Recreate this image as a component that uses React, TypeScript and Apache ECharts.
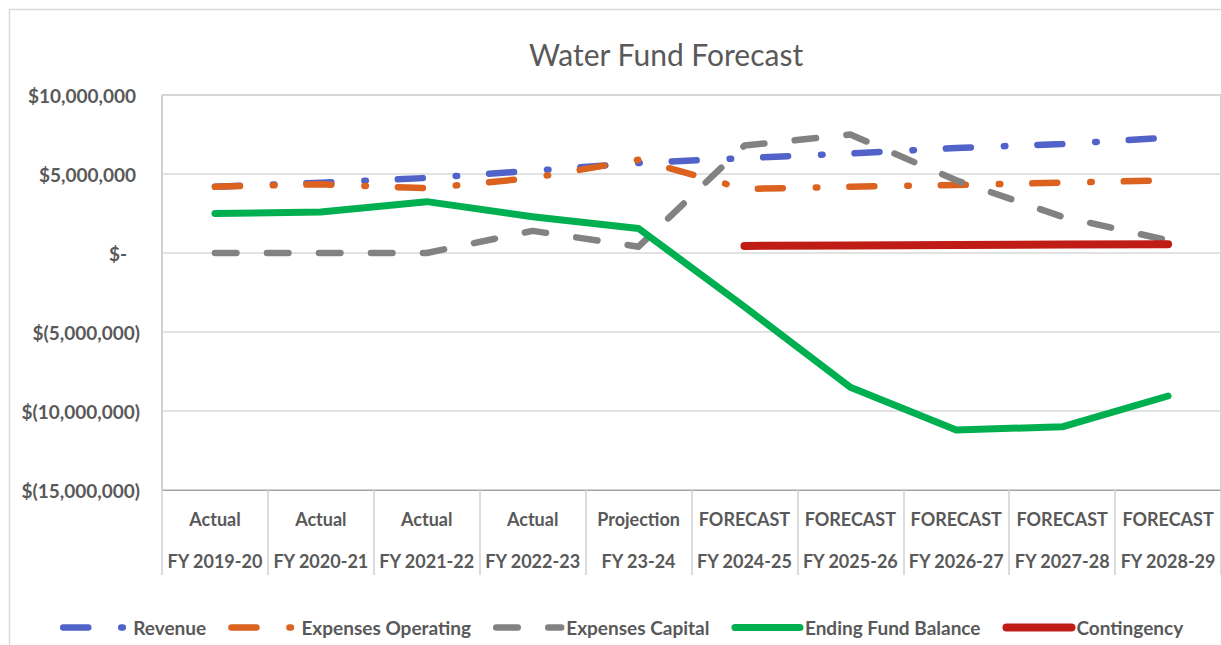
import React, { useEffect, useRef } from 'react';
import * as echarts from 'echarts';

const stages = ['Actual', 'Actual', 'Actual', 'Actual', 'Projection', 'FORECAST', 'FORECAST', 'FORECAST', 'FORECAST', 'FORECAST'];
const years = ['FY 2019-20', 'FY 2020-21', 'FY 2021-22', 'FY 2022-23', 'FY 23-24', 'FY 2024-25', 'FY 2025-26', 'FY 2026-27', 'FY 2027-28', 'FY 2028-29'];

const revenue = [4200000, 4450000, 4750000, 5200000, 5700000, 6000000, 6300000, 6650000, 6900000, 7300000];
const expensesOperating = [4200000, 4350000, 4100000, 4750000, 5900000, 4050000, 4200000, 4300000, 4450000, 4600000];
const expensesCapital = [0, 0, 0, 1400000, 400000, 6800000, 7500000, 4600000, 2300000, 800000];
const endingFundBalance = [2500000, 2600000, 3250000, 2300000, 1550000, -3400000, -8500000, -11200000, -11000000, -9050000];
const contingency = [null, null, null, null, null, 450000, 480000, 510000, 540000, 560000];

const yMin = -15000000;
const yMax = 10000000;
const yInterval = 5000000;

const FONT = 'Lato, "Open Sans", sans-serif';
const TXT = '#595959';

function fmtY(v: number): string {
  if (v === 0) return '{z|$-}';
  const s = Math.abs(v).toLocaleString('en-US');
  return v < 0 ? `{n|$(${s})}` : `{p|$${s}}`;
}

export default function App() {
  const ref = useRef<HTMLDivElement>(null);
  useEffect(() => {
    if (!ref.current) return;
    const chart = echarts.init(ref.current, null, { renderer: 'svg' });
    const categories = stages.map((s, i) => `${s}\n${years[i]}`);
    const labelRich = {
      p: { fontFamily: FONT, fontSize: 19, fontWeight: 'bold', color: TXT, padding: [0, 4, 0, 0] },
      z: { fontFamily: FONT, fontSize: 19, fontWeight: 'bold', color: TXT, padding: [0, 13, 0, 0] },
      n: { fontFamily: FONT, fontSize: 19, fontWeight: 'bold', color: TXT },
    };
    chart.setOption({
      animation: false,
      backgroundColor: '#ffffff',
      title: {
        text: 'Water Fund Forecast',
        left: 524,
        top: 34,
        textStyle: { fontFamily: FONT, fontSize: 30, fontWeight: 'normal', color: TXT },
      },
      graphic: [
        {
          type: 'rect',
          shape: { x: 9.5, y: 9.5, width: 1400, height: 800 },
          style: { fill: 'none', stroke: '#d9d9d9', lineWidth: 1.5 },
          silent: true,
          z: -10,
        },
      ],
      legend: {
        left: 55,
        top: 613,
        itemWidth: 65,
        itemHeight: 14,
        itemGap: 22,
        selectedMode: false,
        itemStyle: { opacity: 0 },
        lineStyle: { cap: 'round', width: 6.5 },
        textStyle: { fontFamily: FONT, fontSize: 19, fontWeight: 'bold', color: TXT },
        data: [
          { name: 'Revenue' },
          { name: 'Expenses Operating' },
          { name: 'Expenses Capital' },
          { name: 'Ending Fund Balance', lineStyle: { width: 7, cap: 'round' } },
          { name: 'Contingency', lineStyle: { width: 8, cap: 'round' } },
        ],
      },
      grid: {
        left: 162,
        right: -2,
        top: 95,
        bottom: 155,
        show: true,
        borderColor: '#a0a0a0',
        borderWidth: 1,
        containLabel: false,
      },
      xAxis: {
        type: 'category',
        data: categories,
        boundaryGap: true,
        axisLine: { show: true, onZero: false, lineStyle: { color: '#a0a0a0', width: 1 } },
        axisTick: { show: true, interval: 0, length: 85, lineStyle: { color: '#d0d0d0', width: 1.5 } },
        axisLabel: {
          interval: 0,
          margin: 8,
          fontFamily: FONT,
          fontSize: 18,
          fontWeight: 'bold',
          color: TXT,
          lineHeight: 42,
        },
        splitLine: { show: false },
      },
      yAxis: {
        type: 'value',
        min: yMin,
        max: yMax,
        interval: yInterval,
        axisLine: { show: false },
        axisTick: { show: false },
        axisLabel: {
          margin: 22,
          formatter: fmtY,
          rich: labelRich,
          fontFamily: FONT,
          fontSize: 19,
          fontWeight: 'bold',
          color: TXT,
        },
        splitLine: { show: true, lineStyle: { color: '#d9d9d9', width: 1.5 } },
      },
      series: [
        {
          name: 'Revenue',
          type: 'line',
          data: revenue,
          symbol: 'none',
          lineStyle: { color: '#5163c8', width: 6.5, type: [25, 33, 1.5, 32], cap: 'round', join: 'round' },
          itemStyle: { color: '#5163c8' },
        },
        {
          name: 'Expenses Operating',
          type: 'line',
          data: expensesOperating,
          symbol: 'none',
          lineStyle: { color: '#dc6220', width: 6.5, type: [25, 33, 1.5, 32], cap: 'round', join: 'round' },
          itemStyle: { color: '#dc6220' },
        },
        {
          name: 'Expenses Capital',
          type: 'line',
          data: expensesCapital,
          symbol: 'none',
          lineStyle: { color: '#828282', width: 6.5, type: [21.5, 30.5], cap: 'round', join: 'round' },
          itemStyle: { color: '#828282' },
        },
        {
          name: 'Ending Fund Balance',
          type: 'line',
          data: endingFundBalance,
          symbol: 'none',
          lineStyle: { color: '#00b050', width: 7, type: 'solid', cap: 'round', join: 'round' },
          itemStyle: { color: '#00b050' },
        },
        {
          name: 'Contingency',
          type: 'line',
          data: contingency,
          symbol: 'none',
          connectNulls: false,
          lineStyle: { color: '#c01c16', width: 8, type: 'solid', cap: 'round', join: 'round' },
          itemStyle: { color: '#c01c16' },
        },
      ],
    });
    return () => chart.dispose();
  }, []);
  return (
    <div
      ref={ref}
      style={{ position: 'fixed', left: 0, top: 0, width: 1221, height: 645, background: '#fff' }}
    />
  );
}
